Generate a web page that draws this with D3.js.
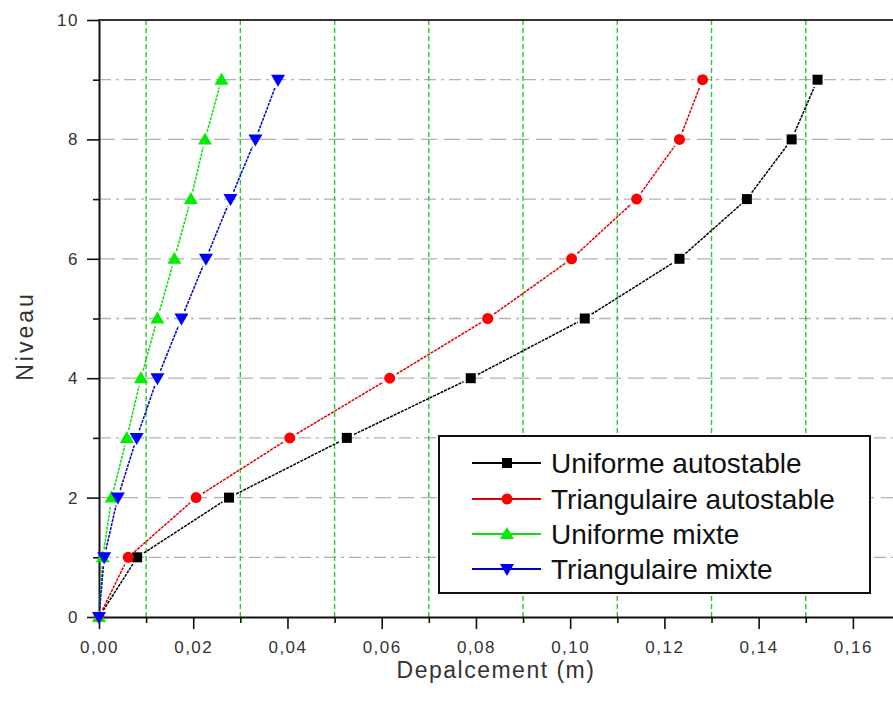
<!DOCTYPE html>
<html><head><meta charset="utf-8">
<script src="https://cdn.jsdelivr.net/npm/d3@7"></script>
<style>
html,body{margin:0;padding:0;background:#fff;}
svg{display:block;font-family:"Liberation Sans",Arial,sans-serif;}
</style></head>
<body>
<svg id="chart" width="893" height="704"></svg>
<script>
// ---- data ----
const levels = [0,1,2,3,4,5,6,7,8,9];
const uniformeAutostable    = [0,0.0081,0.0276,0.0526,0.0789,0.1031,0.1232,0.1375,0.1470,0.1525];
const triangulaireAutostable= [0,0.0062,0.0206,0.0405,0.0617,0.0825,0.1003,0.1141,0.1232,0.1281];
const uniformeMixte         = [0,0.0008,0.0027,0.0059,0.0089,0.0124,0.0160,0.0195,0.0225,0.0260];
const triangulaireMixte     = [0,0.0011,0.0040,0.0080,0.0124,0.0175,0.0227,0.0279,0.0332,0.0380];
const seriesNames = ["Uniforme autostable","Triangulaire autostable","Uniforme mixte","Triangulaire mixte"];
const xMajorTicks = [0,0.02,0.04,0.06,0.08,0.10,0.12,0.14,0.16];
const xMinorTicks = [0.01,0.03,0.05,0.07,0.09,0.11,0.13,0.15];
const yMajorTicks = [0,2,4,6,8,10];
const yMinorTicks = [1,3,5,7,9];
const xTitle = "Depalcement (m)";
const yTitle = "Niveau";

// ---- layout ----
const svg = d3.select("#chart");
const X0 = 99, X1 = 900, Y0 = 617, Y1 = 20;
const x = d3.scaleLinear().domain([0,0.17]).range([X0,X1]);
const y = d3.scaleLinear().domain([0,10]).range([Y0,Y1]);

const styles = [
  {color:"#000000", line:"#000000", marker:"square"},
  {color:"#ff0000", line:"#e00000", marker:"circle"},
  {color:"#00ee00", line:"#11dd11", marker:"up"},
  {color:"#0000ff", line:"#0000cc", marker:"down"}
];
const data = [uniformeAutostable, triangulaireAutostable, uniformeMixte, triangulaireMixte];

// grid: horizontal gray
const grid = svg.append("g");
yMajorTicks.filter(v=>v>0 && v<10).forEach(v=>{
  grid.append("line").attr("x1",X0).attr("x2",893).attr("y1",y(v)).attr("y2",y(v))
    .attr("stroke","#b0b0b0").attr("stroke-width",1.3).attr("stroke-dasharray","16,7");
});
yMinorTicks.forEach(v=>{
  grid.append("line").attr("x1",X0).attr("x2",893).attr("y1",y(v)).attr("y2",y(v))
    .attr("stroke","#b0b0b0").attr("stroke-width",1.3).attr("stroke-dasharray","12,5,3,5");
});
// grid: vertical green
xMinorTicks.forEach(v=>{
  grid.append("line").attr("x1",x(v)).attr("x2",x(v)).attr("y1",Y1).attr("y2",Y0)
    .attr("stroke","#22cc22").attr("stroke-width",1.4).attr("stroke-dasharray","5,3");
});

// axes
const xAxis = d3.axisBottom(x).tickValues(xMajorTicks).tickSize(12).tickSizeOuter(0)
  .tickFormat(d=>d3.format(".2f")(d).replace(".",","));
const gx = svg.append("g").attr("transform",`translate(0,${Y0})`).call(xAxis);
gx.select(".domain").attr("stroke","#111").attr("stroke-width",2);
gx.selectAll(".tick line").attr("stroke","#111").attr("stroke-width",1.6);
gx.selectAll(".tick text").attr("font-size",17).attr("fill","#333").attr("letter-spacing","1.5px")
  .attr("font-family","'Liberation Sans',Arial,sans-serif").attr("y",24).attr("dy","0.71em");
const xMinorAxis = d3.axisBottom(x).tickValues(xMinorTicks).tickSize(6).tickFormat("");
const gxm = svg.append("g").attr("transform",`translate(0,${Y0})`).call(xMinorAxis);
gxm.select(".domain").remove();
gxm.selectAll(".tick line").attr("stroke","#111").attr("stroke-width",1.6);

const yAxis = d3.axisLeft(y).tickValues(yMajorTicks).tickSize(12).tickSizeOuter(0);
const gy = svg.append("g").attr("transform",`translate(${X0},0)`).call(yAxis);
gy.select(".domain").attr("stroke","#111").attr("stroke-width",2);
gy.selectAll(".tick line").attr("stroke","#111").attr("stroke-width",1.6);
gy.selectAll(".tick text").attr("font-size",17).attr("fill","#333").attr("letter-spacing","1.5px")
  .attr("font-family","'Liberation Sans',Arial,sans-serif").attr("x",-20);
const yMinorAxis = d3.axisLeft(y).tickValues(yMinorTicks).tickSize(6).tickFormat("");
const gym = svg.append("g").attr("transform",`translate(${X0},0)`).call(yMinorAxis);
gym.select(".domain").remove();
gym.selectAll(".tick line").attr("stroke","#111").attr("stroke-width",1.6);

// top border
svg.append("line").attr("x1",X0-1).attr("x2",893).attr("y1",Y1).attr("y2",Y1)
  .attr("stroke","#333").attr("stroke-width",2);

// titles
svg.append("text").attr("x",496).attr("y",678).attr("text-anchor","middle")
  .attr("font-size",23).attr("letter-spacing","1.5px").attr("fill","#333").text(xTitle);
svg.append("text").attr("transform","translate(33,336) rotate(-90)").attr("text-anchor","middle")
  .attr("font-size",23).attr("letter-spacing","3px").attr("fill","#333").text(yTitle);

// marker drawing
function marker(g, type, cx, cy, color){
  if(type==="square"){
    g.append("rect").attr("x",cx-5).attr("y",cy-5).attr("width",10).attr("height",10).attr("fill",color);
  } else if(type==="circle"){
    g.append("circle").attr("cx",cx).attr("cy",cy).attr("r",5.5).attr("fill",color);
  } else if(type==="up"){
    g.append("path").attr("d",`M${cx-7},${cy+5}L${cx+7},${cy+5}L${cx},${cy-7}Z`).attr("fill",color);
  } else {
    g.append("path").attr("d",`M${cx-7},${cy-5}L${cx+7},${cy-5}L${cx},${cy+7}Z`).attr("fill",color);
  }
}

// series
const plot = svg.append("g");
data.forEach((vals,si)=>{
  const st = styles[si];
  const pts = levels.map((lv,i)=>[x(vals[i]), y(lv)]);
  const gl = plot.append("g");
  for(let i=0;i<pts.length-1;i++){
    const [ax,ay]=pts[i],[bx,by]=pts[i+1];
    const len=Math.hypot(bx-ax,by-ay), gap=8;
    if(len<=2*gap) continue;
    const ux=(bx-ax)/len, uy=(by-ay)/len;
    gl.append("line").attr("x1",ax+ux*gap).attr("y1",ay+uy*gap)
      .attr("x2",bx-ux*gap).attr("y2",by-uy*gap)
      .attr("stroke",st.line).attr("stroke-width",1.5).attr("stroke-dasharray","3,1");
  }
});
data.forEach((vals,si)=>{
  const st = styles[si];
  const gm = plot.append("g");
  levels.forEach((lv,i)=>marker(gm, st.marker, x(vals[i]), y(lv), st.color));
});

// legend
const lg = svg.append("g");
lg.append("rect").attr("x",439).attr("y",436).attr("width",431).attr("height",157)
  .attr("fill","#fff").attr("stroke","#111").attr("stroke-width",2);
const rowY = [463,499,534,569];
seriesNames.forEach((name,i)=>{
  const st = styles[i];
  lg.append("line").attr("x1",472).attr("x2",541).attr("y1",rowY[i]).attr("y2",rowY[i])
    .attr("stroke",st.line).attr("stroke-width",1.8);
  marker(lg, st.marker, 507, rowY[i], st.color);
  lg.append("text").attr("x",551).attr("y",rowY[i]+10).attr("font-size",28)
    .attr("fill","#111").text(name);
});
</script>
</body></html>
